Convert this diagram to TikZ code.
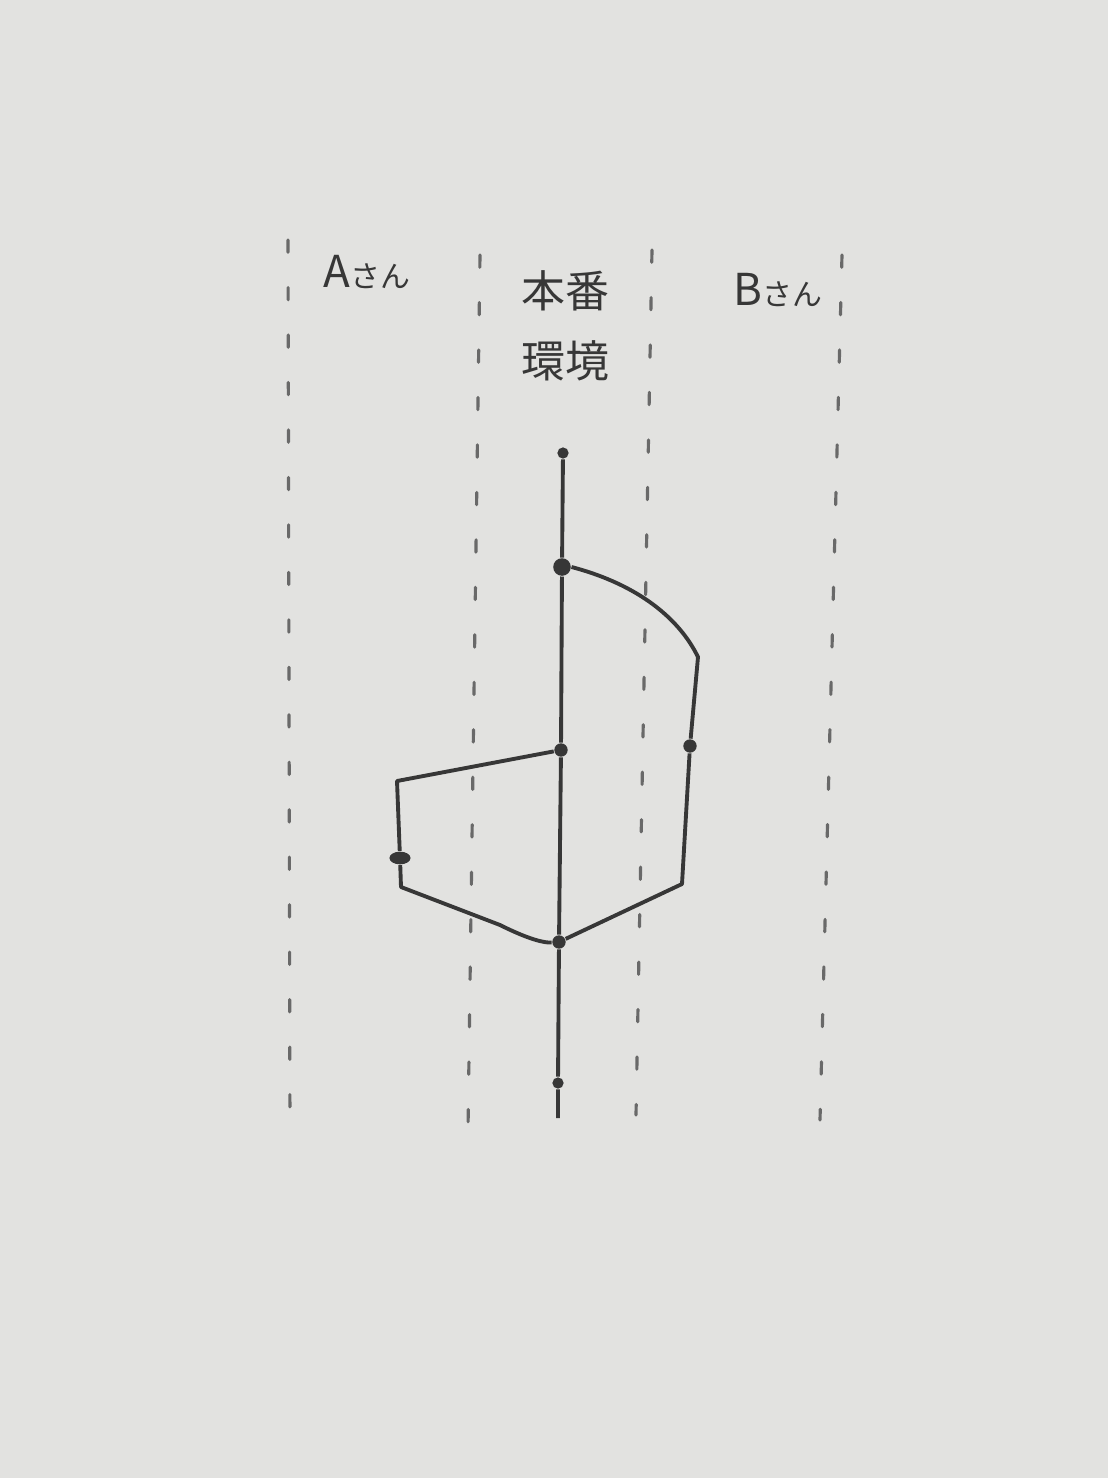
\documentclass[tikz,border=0pt]{standalone}
\usepackage{fontspec}
\newfontfamily\cjk{Noto Sans CJK JP}
\usepackage{tikz}
\usetikzlibrary{positioning, calc, shapes.geometric}
\definecolor{paper}{RGB}{226,226,224}
\definecolor{pencil}{RGB}{55,55,55}
\tikzset{x=0.01cm, y=-0.01cm, % one unit is one pixel of the sheet
        lane/.style={ % Dashed line between the lanes
            draw=pencil!75, line width=0.9pt, line cap=round,
            dash pattern=on 3.5pt off 10pt},
        branch/.style={ % Solid line of a branch
            draw=pencil, line width=1.1pt, line join=round},
        commit/.style={ % A dot on a branch
            circle, fill=pencil, inner sep=0pt, minimum size=3.8pt},
        label/.style={ % Lane titles
            font=\cjk\fontsize{12.5}{20}\selectfont, text=pencil, align=center}
        }
\newcommand\san{{\fontsize{8.5}{10}\selectfont さん}}

\begin{document}
\begin{tikzpicture}
    \fill[paper] (0,0) rectangle (1108,1478);
    \useasboundingbox (0,0) rectangle (1108,1478);

    % lanes
    \draw[lane] (288,240) -- (290,1140);
    \draw[lane] (480,255) -- (468,1130);
    \draw[lane] (652,250) -- (636,1115);
    \draw[lane] (842,255) -- (820,1120);

    \node[label] (la) at (367,272) {A\san};
    \node[label] (lm) at (565,326) {本番\\環境};
    \node[label] (lb) at (778,290) {B\san};

    % commits on the main branch
    \node[commit, minimum size=3.2pt] (c0) at (563,453) {};
    \node[commit, minimum size=5pt] (c1) at (562,567) {};
    \node[commit] (c2) at (561,750) {};
    \node[commit] (c3) at (559,942) {};
    \node[commit, minimum size=3.2pt] (c4) at (558,1083) {};
    \coordinate (mend) at (558,1118);

    % B's branch
    \node[commit] (b1) at (690,746) {};
    \coordinate (bk1) at (698,657);
    \coordinate (bk2) at (682,884);

    % A's branch
    \node[commit, ellipse, minimum width=6pt, minimum height=3.6pt] (a1) at (400,858) {};
    \coordinate (ak1) at (397,781);
    \coordinate (ak2) at (401,887);

    \draw[branch] (c0) -- (c1) -- (c2) -- (c3) -- (c4) -- (mend);
    \draw[branch] (c1.east) .. controls (640,585) and (680,620) .. (bk1)
        -- (b1) -- (bk2) -- (c3);
    \draw[branch] (c2) -- (ak1) -- (a1) -- (ak2)
        -- (500,925) .. controls (530,940) and (545,943) .. (c3);
\end{tikzpicture}
\end{document}
